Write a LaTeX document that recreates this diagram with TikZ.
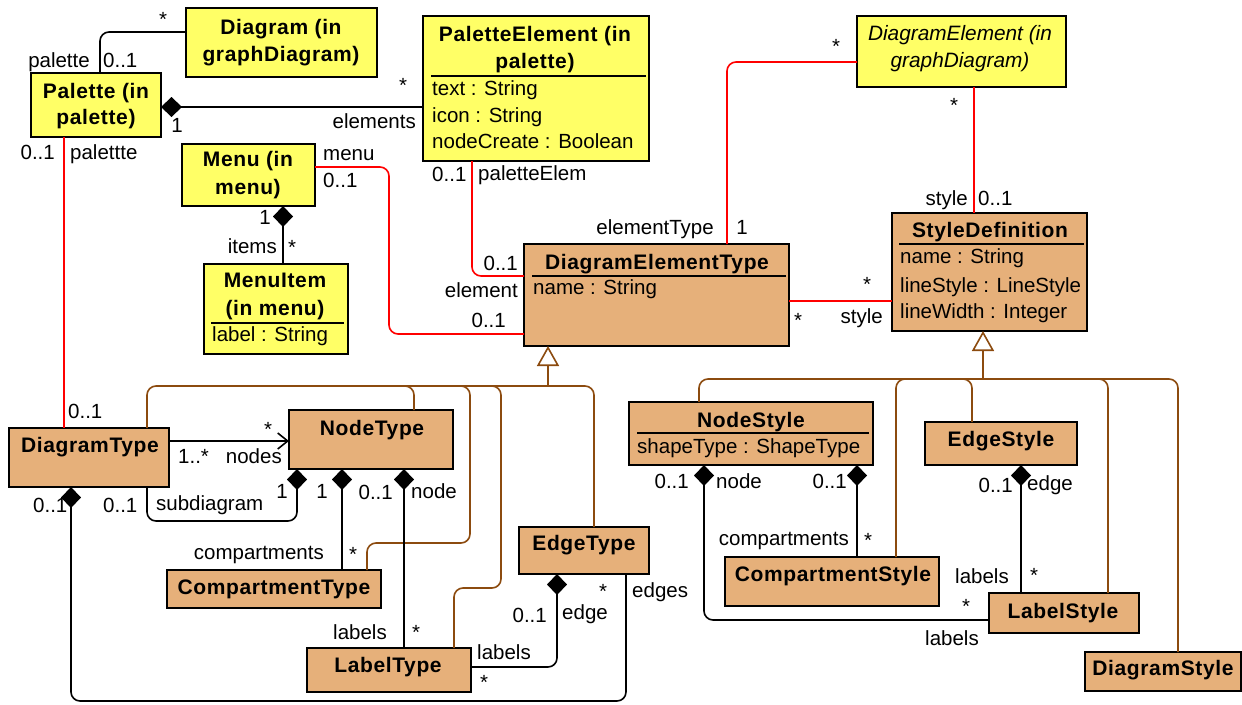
\documentclass[tikz,border=0pt]{standalone}
\usepackage{fontspec}
\setmainfont{Liberation Sans}
\newfontfamily\clsfont[LetterSpace=3]{Liberation Sans}
\usetikzlibrary{arrows.meta}

\definecolor{clsyellow}{RGB}{255,255,102}
\definecolor{clstan}{RGB}{230,176,122}
\definecolor{genbrown}{RGB}{140,75,15}
\definecolor{assocred}{RGB}{255,0,0}

% class box: name, style, x1, y1, x2, y2 (top-left / bottom-right)
\newcommand\umlclass[6]{%
  \node[#2, minimum width={(#5-#3)*1pt}, minimum height={(#6-#4)*1pt}] (#1) at (#3,#4) {};}

\tikzset{
  box/.style={draw=black, line width=1.8pt, anchor=north west, inner sep=0pt, outer sep=0pt},
  ybox/.style={box, fill=clsyellow},
  tbox/.style={box, fill=clstan},
  ttl/.style={font=\clsfont\bfseries\fontsize{21}{25}\selectfont, inner sep=0pt, anchor=base},
  ttlit/.style={font=\itshape\fontsize{20.8}{25}\selectfont, inner sep=0pt, anchor=base},
  attr/.style={font=\fontsize{20.5}{25}\selectfont, inner sep=0pt, anchor=base west},
  lbl/.style={font=\fontsize{20.5}{25}\selectfont, inner sep=0pt},
  sepline/.style={line width=1.8pt},
  conn/.style={line width=1.6pt, rounded corners=9pt},
  assoc/.style={conn, draw=black},
  redassoc/.style={conn, draw=assocred},
  comp/.style={assoc, {Diamond[length=21pt,width=20pt]}-},
  nav/.style={assoc, -{Straight Barb[length=10pt,width=16pt]}},
  genline/.style={conn, draw=genbrown},
  gen/.style={genline, -{Triangle[open,length=20pt,width=22pt,fill=white]}},
}

\begin{document}
\begin{tikzpicture}[x=1pt,y=-1pt]
\useasboundingbox (0,0) rectangle (1242,704);

% ---------- classes ----------
\umlclass{Dg}{ybox}{186}{8}{377}{77}
\node[ttl] (Dg-t1) at (281,34) {Diagram (in};
\node[ttl] (Dg-t2) at (281,61) {graphDiagram)};

\umlclass{Pal}{ybox}{31}{73}{161}{137}
\node[ttl] (Pal-t1) at (96,98) {Palette (in};
\node[ttl] (Pal-t2) at (96,124) {palette)};

\umlclass{PE}{ybox}{423}{16}{649}{161}
\node[ttl] (PE-t1) at (535,41) {PaletteElement (in};
\node[ttl] (PE-t2) at (535,68) {palette)};
\draw[sepline] (431,76) -- (646,76);
\node[attr] (PE-a1) at (432,95) {text : String};
\node[attr] (PE-a2) at (432,122) {icon : String};
\node[attr] (PE-a3) at (432,148) {nodeCreate : Boolean};

\umlclass{DE}{ybox}{857}{16}{1066}{87}
\node[ttlit] (DE-t1) at (960,40) {DiagramElement (in};
\node[ttlit] (DE-t2) at (960,67) {graphDiagram)};

\umlclass{Menu}{ybox}{182}{144}{315}{206}
\node[ttl] (Menu-t1) at (248,166) {Menu (in};
\node[ttl] (Menu-t2) at (248,194) {menu)};

\umlclass{MI}{ybox}{204}{264}{348}{354}
\node[ttl] (MI-t1) at (275,287) {MenuItem};
\node[ttl] (MI-t2) at (275,315) {(in menu)};
\draw[sepline] (211,323) -- (344,323);
\node[attr] (MI-a1) at (212,341) {label : String};

\umlclass{DET}{tbox}{524}{244}{789}{346}
\node[ttl] (DET-t) at (657,269) {DiagramElementType};
\draw[sepline] (532,276) -- (786,276);
\node[attr] (DET-a1) at (533,294) {name : String};

\umlclass{SD}{tbox}{892}{213}{1087}{331}
\node[ttl] (SD-t) at (990,237) {StyleDefinition};
\draw[sepline] (899,244) -- (1084,244);
\node[attr] (SD-a1) at (900,263) {name : String};
\node[attr] (SD-a2) at (900,292) {lineStyle : LineStyle};
\node[attr] (SD-a3) at (900,318) {lineWidth : Integer};

\umlclass{DT}{tbox}{9}{428}{169}{487}
\node[ttl] (DT-t) at (90,452) {DiagramType};

\umlclass{NT}{tbox}{289}{410}{453}{469}
\node[ttl] (NT-t) at (372,435) {NodeType};

\umlclass{CT}{tbox}{167}{570}{381}{608}
\node[ttl] (CT-t) at (274,594) {CompartmentType};

\umlclass{LT}{tbox}{307}{648}{471}{692}
\node[ttl] (LT-t) at (388,672) {LabelType};

\umlclass{ET}{tbox}{519}{527}{649}{574}
\node[ttl] (ET-t) at (584,550) {EdgeType};

\umlclass{NS}{tbox}{629}{402}{873}{465}
\node[ttl] (NS-t) at (751,427) {NodeStyle};
\draw[sepline] (637,433) -- (869,433);
\node[attr] (NS-a1) at (637,453) {shapeType : ShapeType};

\umlclass{ES}{tbox}{925}{422}{1077}{465}
\node[ttl] (ES-t) at (1001,446) {EdgeStyle};

\umlclass{CS}{tbox}{725}{557}{939}{606}
\node[ttl] (CS-t) at (833,581) {CompartmentStyle};

\umlclass{LS}{tbox}{989}{593}{1139}{633}
\node[ttl] (LS-t) at (1063,618) {LabelStyle};

\umlclass{DS}{tbox}{1085}{652}{1241}{691}
\node[ttl] (DS-t) at (1163,675) {DiagramStyle};

% ---------- generalisations ----------
\draw[genline] (DT.north -| 147,0) -- (147,386) -- (594,386) -- (ET.north -| 594,0);
\draw[genline] (395,386) -- (414,386) -- (NT.north -| 414,0);
\draw[genline] (455,386) -- (470,386) -- (470,543) -- (367,543) -- (CT.north -| 367,0);
\draw[genline] (485,386) -- (501,386) -- (501,588) -- (454,588) -- (LT.north -| 454,0);
\draw[gen] (548,386) -- (DET.south -| 548,0);

\draw[genline] (NS.north -| 699,0) -- (699,379) -- (1178,379) -- (DS.north -| 1178,0);
\draw[genline] (920,379) -- (896,379) -- (CS.north -| 896,0);
\draw[genline] (950,379) -- (972,379) -- (ES.north -| 972,0);
\draw[genline] (1085,379) -- (1108,379) -- (LS.north -| 1108,0);
\draw[gen] (983,379) -- (SD.south -| 983,0);

% ---------- associations across packages ----------
\draw[redassoc] (Pal.south -| 64,0) -- (DT.north -| 64,0);
\draw[redassoc] (Menu.east |- 0,167) -| (389,334) -- (DET.west |- 0,334);
\draw[redassoc] (PE.south -| 472,0) |- (DET.west |- 0,276);
\draw[redassoc] (DET.north -| 727,0) |- (DE.west |- 0,62);
\draw[redassoc] (DE.south -| 974,0) -- (SD.north -| 974,0);
\draw[redassoc] (DET.east |- 0,301) -- (SD.west |- 0,301);

% ---------- associations and compositions ----------
\draw[assoc] (Pal.north -| 100,0) |- (Dg.west |- 0,32);
\draw[comp] (Pal.east |- 0,107) -- (PE.west |- 0,107);
\draw[comp] (Menu.south -| 283,0) -- (MI.north -| 283,0);
\draw[nav] (DT.east |- 0,441) -- (NT.west |- 0,441);
\draw[comp] (NT.south -| 297,0) |- (147,521) -- (DT.south -| 147,0);
\draw[comp] (DT.south -| 71,0) |- (626,701) -- (ET.south -| 626,0);
\draw[comp] (NT.south -| 342,0) -- (CT.north -| 342,0);
\draw[comp] (NT.south -| 404,0) -- (LT.north -| 404,0);
\draw[comp] (ET.south -| 557,0) |- (LT.east |- 0,667);
\draw[comp] (NS.south -| 857,0) -- (CS.north -| 857,0);
\draw[comp] (NS.south -| 704,0) |- (LS.west |- 0,620);
\draw[comp] (ES.south -| 1021,0) -- (LS.north -| 1021,0);

% ---------- role names and multiplicities ----------
\node[lbl, anchor=base east] (m1) at (90,67) {palette};
\node[lbl, anchor=base west] (m2) at (103,67) {0..1};
\node[lbl, anchor=base] (m3) at (163,27) {*};
\node[lbl, anchor=base] (m4) at (403,92) {*};
\node[lbl, anchor=base east] (m5) at (416,128) {elements};
\node[lbl, anchor=base] (m6) at (177,132) {1};
\node[lbl, anchor=base east] (m7) at (55,159) {0..1};
\node[lbl, anchor=base west] (m8) at (70,159) {palettte};
\node[lbl, anchor=base west] (m9) at (68,418) {0..1};
\node[lbl, anchor=base west] (m10) at (323,160) {menu};
\node[lbl, anchor=base west] (m11) at (323,187) {0..1};
\node[lbl, anchor=base east] (m12) at (506,327) {0..1};
\node[lbl, anchor=base east] (m13) at (271,224) {1};
\node[lbl, anchor=base east] (m14) at (277,253) {items};
\node[lbl, anchor=base] (m15) at (292,254) {*};
\node[lbl, anchor=base west] (m16) at (432,181) {0..1};
\node[lbl, anchor=base west] (m17) at (478,180) {paletteElem};
\node[lbl, anchor=base east] (m18) at (518,270) {0..1};
\node[lbl, anchor=base east] (m19) at (518,297) {element};
\node[lbl, anchor=base east] (m20) at (714,234) {elementType};
\node[lbl, anchor=base] (m21) at (742,234) {1};
\node[lbl, anchor=base] (m22) at (836,53) {*};
\node[lbl, anchor=base] (m23) at (954,112) {*};
\node[lbl, anchor=base east] (m24) at (968,205) {style};
\node[lbl, anchor=base west] (m25) at (978,205) {0..1};
\node[lbl, anchor=base] (m26) at (867,291) {*};
\node[lbl, anchor=base] (m27) at (798,327) {*};
\node[lbl, anchor=base east] (m28) at (883,323) {style};
\node[lbl, anchor=base] (m29) at (268,436) {*};
\node[lbl, anchor=base west] (m30) at (178,463) {1..*};
\node[lbl, anchor=base east] (m31) at (282,463) {nodes};
\node[lbl, anchor=base] (m32) at (282,498) {1};
\node[lbl, anchor=base west] (m33) at (103,512) {0..1};
\node[lbl, anchor=base west] (m34) at (156,510) {subdiagram};
\node[lbl, anchor=base west] (m35) at (33,512) {0..1};
\node[lbl, anchor=base] (m36) at (603,598) {*};
\node[lbl, anchor=base west] (m37) at (632,597) {edges};
\node[lbl, anchor=base] (m38) at (322,498) {1};
\node[lbl, anchor=base east] (m39) at (324,559) {compartments};
\node[lbl, anchor=base] (m40) at (353,561) {*};
\node[lbl, anchor=base east] (m41) at (393,499) {0..1};
\node[lbl, anchor=base west] (m42) at (411,498) {node};
\node[lbl, anchor=base east] (m43) at (387,639) {labels};
\node[lbl, anchor=base] (m44) at (416,639) {*};
\node[lbl, anchor=base east] (m45) at (547,622) {0..1};
\node[lbl, anchor=base west] (m46) at (562,619) {edge};
\node[lbl, anchor=base west] (m47) at (477,659) {labels};
\node[lbl, anchor=base] (m48) at (484,689) {*};
\node[lbl, anchor=base east] (m49) at (847,488) {0..1};
\node[lbl, anchor=base east] (m50) at (849,545) {compartments};
\node[lbl, anchor=base] (m51) at (868,547) {*};
\node[lbl, anchor=base east] (m52) at (689,488) {0..1};
\node[lbl, anchor=base west] (m53) at (716,488) {node};
\node[lbl, anchor=base] (m54) at (966,613) {*};
\node[lbl, anchor=base east] (m55) at (979,645) {labels};
\node[lbl, anchor=base east] (m56) at (1013,492) {0..1};
\node[lbl, anchor=base west] (m57) at (1027,490) {edge};
\node[lbl, anchor=base east] (m58) at (1009,583) {labels};
\node[lbl, anchor=base] (m59) at (1034,582) {*};
\end{tikzpicture}
\end{document}
